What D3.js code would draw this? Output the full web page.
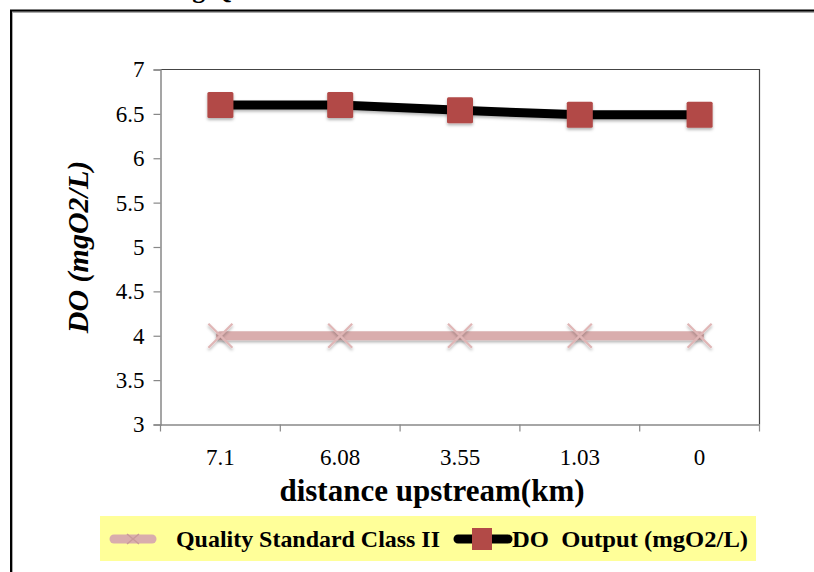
<!DOCTYPE html>
<html>
<head>
<meta charset="utf-8">
<script src="https://cdn.jsdelivr.net/npm/d3@7"></script>
<style>
  html, body { margin: 0; padding: 0; background: #fff; }
  svg { display: block; }
  svg text { font-family: "Liberation Serif", "Times New Roman", serif; }
</style>
</head>
<body>
<svg id="chart" width="814" height="572"></svg>
<script>
// Distance upstream (km), plotted as categories
const categories = ["7.1", "6.08", "3.55", "1.03", "0"];
// Dissolved oxygen model output (mgO2/L)
const doOutput = [6.6, 6.6, 6.54, 6.49, 6.49];
// Class II quality standard (mgO2/L)
const standardClassII = [4, 4, 4, 4, 4];
const yTicks = [3, 3.5, 4, 4.5, 5, 5.5, 6, 6.5, 7];

(function () {
const svg = d3.select("#chart");
const serif = "'Liberation Serif', 'Times New Roman', serif";

// soft drop shadow; user-space region so flat horizontal lines keep it
const defs = svg.append("defs");
const sh = defs.append("filter").attr("id", "shadow")
  .attr("filterUnits", "userSpaceOnUse")
  .attr("x", 0).attr("y", 0).attr("width", 814).attr("height", 572);
sh.append("feDropShadow").attr("dx", 0).attr("dy", 2).attr("stdDeviation", 1.6)
  .attr("flood-color", "#000").attr("flood-opacity", 0.3);

// outer frame (extends past the right and bottom edges)
svg.append("path")
  .attr("d", "M11,600 L11,10.5 L830,10.5")
  .attr("fill", "none").attr("stroke", "#aaa").attr("stroke-width", 2)
  .attr("transform", "translate(1,1.5)");
svg.append("path")
  .attr("d", "M11,600 L11,10.5 L830,10.5")
  .attr("fill", "none").attr("stroke", "#000").attr("stroke-width", 2);

// fragment of the heading above the frame
svg.append("text")
  .attr("x", 212).attr("y", -2)
  .attr("text-anchor", "middle")
  .attr("font-weight", "bold").attr("font-size", 26)
  .text("g Q");

const pLeft = 160.5, pRight = 759.5, pTop = 69.5, pBottom = 424.5;

const x = d3.scaleBand().domain(categories).range([pLeft, pRight]);
const y = d3.scaleLinear().domain([3, 7]).range([pBottom, pTop]);

// plot border: top and right
svg.append("path")
  .attr("d", `M${pLeft},${pTop} L${pRight},${pTop} L${pRight},${pBottom}`)
  .attr("fill", "none").attr("stroke", "#444").attr("stroke-width", 1.2);

// y axis
const yAxis = svg.append("g")
  .attr("transform", `translate(${pLeft},0)`)
  .call(d3.axisLeft(y).tickValues(yTicks).tickSize(7).tickPadding(9)
    .tickFormat(d => String(d)));
yAxis.select(".domain").attr("stroke", "#888").attr("stroke-width", 1.5);
yAxis.selectAll(".tick line").attr("stroke", "#888").attr("stroke-width", 1.2);
yAxis.selectAll("text").attr("fill", "#000")
  .style("font-family", serif).style("font-size", "23px");

// x axis with ticks between categories
const xAxis = svg.append("g")
  .attr("transform", `translate(0,${pBottom})`)
  .call(d3.axisBottom(x).tickSize(0).tickPadding(24));
xAxis.select(".domain").attr("stroke", "#888").attr("stroke-width", 1.5);
xAxis.selectAll("text").attr("fill", "#000")
  .style("font-family", serif).style("font-size", "23px");
const edges = categories.map(c => x(c)).concat([x(categories[categories.length - 1]) + x.bandwidth()]);
xAxis.selectAll(".edge").data(edges).join("line")
  .attr("class", "edge")
  .attr("x1", d => d).attr("x2", d => d)
  .attr("y1", 0).attr("y2", 7)
  .attr("stroke", "#888").attr("stroke-width", 1.2);

const cx = c => x(c) + x.bandwidth() / 2;

const stdData = categories.map((c, i) => ({ c, v: standardClassII[i] }));
const doData = categories.map((c, i) => ({ c, v: doOutput[i] }));
const line = d3.line().x(d => cx(d.c)).y(d => y(d.v));

// standard line with cross markers
svg.append("path").datum(stdData)
  .attr("d", line).attr("fill", "none")
  .attr("stroke", "#d9adad").attr("stroke-width", 9).attr("stroke-linecap", "round")
  .attr("filter", "url(#shadow)");
const crossSize = 12;
svg.append("g").selectAll("path").data(stdData).join("path")
  .attr("d", d => {
    const px = cx(d.c), py = y(d.v);
    return `M${px - crossSize},${py - crossSize} L${px + crossSize},${py + crossSize} M${px - crossSize},${py + crossSize} L${px + crossSize},${py - crossSize}`;
  })
  .attr("stroke", "#e0b6b6").attr("stroke-width", 2.2).attr("fill", "none")
  .attr("filter", "url(#shadow)");

// DO output line with square markers
svg.append("path").datum(doData)
  .attr("d", line).attr("fill", "none")
  .attr("stroke", "#000").attr("stroke-width", 9)
  .attr("filter", "url(#shadow)");
const sq = 26;
svg.append("g").selectAll("rect").data(doData).join("rect")
  .attr("x", d => cx(d.c) - sq / 2).attr("y", d => y(d.v) - sq / 2)
  .attr("width", sq).attr("height", sq).attr("rx", 1.5)
  .attr("fill", "#b24a47")
  .attr("filter", "url(#shadow)");

// axis titles
svg.append("text")
  .attr("transform", `translate(88,${(pTop + pBottom) / 2}) rotate(-90)`)
  .attr("text-anchor", "middle")
  .attr("font-weight", "bold").attr("font-style", "italic")
  .attr("font-size", 30)
  .text("DO (mgO2/L)");
svg.append("text")
  .attr("x", 432).attr("y", 501)
  .attr("text-anchor", "middle")
  .attr("font-weight", "bold")
  .attr("font-size", 31)
  .text("distance upstream(km)");

// legend
const lg = svg.append("g");
lg.append("rect").attr("x", 100).attr("y", 516).attr("width", 656).attr("height", 45)
  .attr("fill", "#ffff99");
const ly = 539;
lg.append("line").attr("x1", 114).attr("x2", 152).attr("y1", ly).attr("y2", ly)
  .attr("stroke", "#d9adad").attr("stroke-width", 9).attr("stroke-linecap", "round");
lg.append("path")
  .attr("d", `M127,${ly - 5} L139,${ly + 5} M127,${ly + 5} L139,${ly - 5}`)
  .attr("stroke", "#c99a9a").attr("stroke-width", 1.5);
lg.append("text").attr("x", 176).attr("y", ly + 8)
  .attr("font-weight", "bold").attr("font-size", 24)
  .attr("textLength", 264).attr("lengthAdjust", "spacingAndGlyphs")
  .text("Quality Standard Class II");
lg.append("line").attr("x1", 458).attr("x2", 508).attr("y1", ly).attr("y2", ly)
  .attr("stroke", "#000").attr("stroke-width", 9).attr("stroke-linecap", "round");
lg.append("rect").attr("x", 472).attr("y", ly - 11).attr("width", 20).attr("height", 22)
  .attr("fill", "#b24a47");
lg.append("text").attr("x", 512).attr("y", ly + 8)
  .attr("font-weight", "bold").attr("font-size", 24)
  .attr("textLength", 236).attr("lengthAdjust", "spacingAndGlyphs")
  .attr("xml:space", "preserve")
  .text("DO  Output (mgO2/L)");
})();
</script>
</body>
</html>
